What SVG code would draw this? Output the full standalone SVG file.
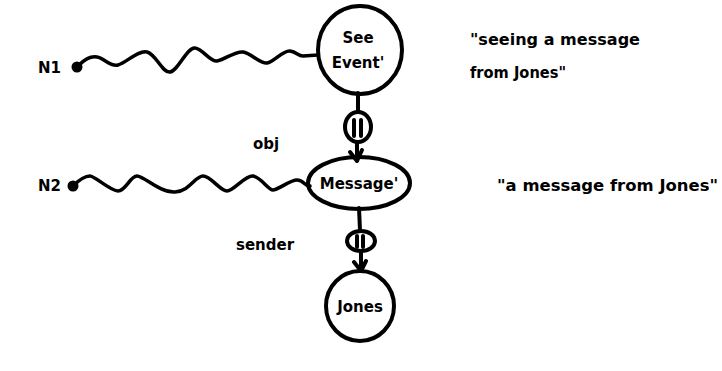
<svg xmlns="http://www.w3.org/2000/svg" width="722" height="371" viewBox="0 0 722 371">
<style>
.t{font-family:"DejaVu Sans","Liberation Sans",sans-serif;font-weight:bold;font-size:15px;fill:#000}
.s{fill:none;stroke:#000;stroke-width:4;stroke-linecap:round;stroke-linejoin:round}
.w{fill:none;stroke:#000;stroke-width:3.5;stroke-linecap:round;stroke-linejoin:round}
</style>
<rect width="722" height="371" fill="#fff"/>
<g id="connectors">
<path class="w" d="M77,67 C85,59 90,56 97,57 S110,67 118,65 S138,50 147,52 S162,73 170,72 S187,47 195,48 S210,62 217,61 S235,51 243,52 S260,64 267,63 S283,50 290,51 S298,56 303,56 L318,55"/>
<circle cx="77" cy="67" r="5.5"/>
<path class="w" d="M73,186 C80,179 85,176 90,176 S110,191 118,191 S130,176 137,176 S160,193 175,192 S195,176 203,176 S220,191 227,191 S245,175 253,176 S268,190 273,190 S290,180 297,180 S305,187 310,186"/>
<circle cx="73" cy="186" r="5.5"/>
<path class="s" d="M358,93 L358,112"/>
<ellipse class="s" cx="358" cy="127" rx="13" ry="15"/>
<path class="s" d="M354,120 L354,136 M361,120 L361,136"/>
<path class="s" d="M357,142 L357,161 M350,152 L357,161 L362,150"/>
<path class="s" d="M359,208 L360,230"/>
<ellipse class="s" cx="361" cy="241" rx="14" ry="10"/>
<path class="s" d="M357,236 L357,247 M363,236 L363,247"/>
<path class="s" d="M361,251 L361,270 M354,262 L361,271 L366,261"/>
</g>
<g id="n1"><text class="t" x="38" y="73">N1</text></g>
<g id="n2"><text class="t" x="38" y="191">N2</text></g>
<g id="see-event">
<ellipse class="s" cx="360" cy="50" rx="42" ry="44"/>
<text class="t" x="358" y="43" text-anchor="middle">See</text>
<text class="t" x="358" y="68" text-anchor="middle">Event'</text>
</g>
<g id="message">
<ellipse class="s" cx="359" cy="183" rx="51" ry="26"/>
<text class="t" x="359" y="189" text-anchor="middle">Message'</text>
</g>
<g id="jones">
<ellipse class="s" cx="360" cy="306" rx="34" ry="35"/>
<text class="t" x="360" y="312" text-anchor="middle">Jones</text>
</g>
<g id="labels">
<text class="t" x="253" y="149">obj</text>
<text class="t" x="236" y="250">sender</text>
<text class="t" x="470" y="45" textLength="170" lengthAdjust="spacingAndGlyphs">"seeing a message</text>
<text class="t" x="470" y="78" textLength="96" lengthAdjust="spacingAndGlyphs">from Jones"</text>
<text class="t" x="497" y="191" textLength="221" lengthAdjust="spacingAndGlyphs">"a message from Jones"</text>
</g>
</svg>
